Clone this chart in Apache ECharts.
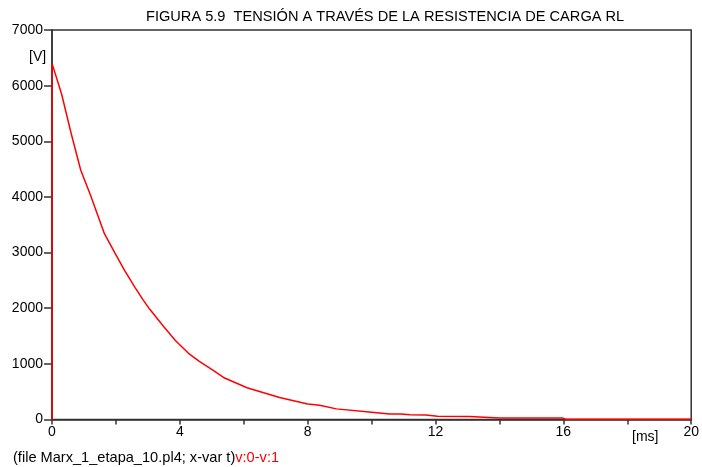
<!DOCTYPE html>
<html>
<head>
<meta charset="utf-8">
<script src="https://cdn.jsdelivr.net/npm/echarts@6/dist/echarts.min.js"></script>
<style>
html,body{margin:0;padding:0;background:#fff;}
#chart{width:702px;height:467px;}
</style>
</head>
<body>
<div id="chart"></div>
<script>
// time [ms]
var timeMs = [0, 0, 0.3, 0.6, 0.9, 1.2, 1.64, 1.97, 2.27, 2.6, 2.85, 3.06, 3.48, 3.86, 4.27, 4.61, 5.08, 5.4, 6.1, 7.12, 8.0, 8.37, 8.9, 10.0, 10.56, 10.92, 11.2, 11.7, 12.06, 13.06, 14.0, 15.97, 16.07, 20];
// voltage [V]
var voltage = [0, 6400, 5850, 5140, 4480, 4040, 3340, 2990, 2680, 2370, 2150, 1980, 1680, 1420, 1190, 1045, 870, 745, 570, 395, 280, 257, 191, 131, 101, 101, 85, 83, 59, 54, 29, 29, 5, 5];
var xTicks = [0, 4, 8, 12, 16, 20];
var yTicks = [0, 1000, 2000, 3000, 4000, 5000, 6000, 7000];
var titleText = 'FIGURA 5.9  TENSIÓN A TRAVÉS DE LA RESISTENCIA DE CARGA RL';

var data = timeMs.map(function (t, i) { return [t, voltage[i]]; });
var font = 'Liberation Sans, Arial, sans-serif';

var chart = echarts.init(document.getElementById('chart'), null, {renderer: 'canvas'});
chart.setOption({
  animation: false,
  backgroundColor: '#fff',
  title: {
    text: titleText,
    left: 141, top: 4,
    textStyle: {fontFamily: font, fontSize: 14.6, fontWeight: 'normal', color: '#000'}
  },
  grid: {
    left: 52, right: 10, top: 30, bottom: 47.5,
    show: true, borderColor: '#333', borderWidth: 1.5, backgroundColor: 'transparent'
  },
  xAxis: {
    type: 'value', min: 0, max: 20, interval: 2,
    axisLine: {show: true, onZero: false, lineStyle: {color: '#333', width: 1.5}},
    axisTick: {show: true, inside: false, length: 5, lineStyle: {color: '#333', width: 1.5}},
    splitLine: {show: false},
    axisLabel: {
      margin: 6, color: '#000', fontFamily: font, fontSize: 14,
      showMaxLabel: true,
      formatter: function (v) { return xTicks.indexOf(v) >= 0 ? String(v) : ''; }
    }
  },
  yAxis: {
    type: 'value', min: 0, max: 7000, interval: 1000,
    axisLine: {show: true, onZero: false, lineStyle: {color: '#333', width: 1.5}},
    axisTick: {show: true, inside: false, length: 8, lineStyle: {color: '#333', width: 1.5}},
    splitLine: {show: false},
    axisLabel: {
      margin: 9, color: '#000', fontFamily: font, fontSize: 14,
      formatter: function (v) { return yTicks.indexOf(v) >= 0 ? String(v) : ''; }
    }
  },
  graphic: [
    {type: 'text', left: 29, top: 50, style: {text: '[V]', fill: '#000', font: '14px ' + font}},
    {type: 'text', left: 632, top: 430, style: {text: '[ms]', fill: '#000', font: '14px ' + font}},
    {type: 'text', left: 13, top: 450, style: {
      text: '{a|(file Marx_1_etapa_10.pl4; x-var t)}{b|v:0-v:1}',
      rich: {
        a: {fill: '#000', fontFamily: font, fontSize: 14.6, color: '#000'},
        b: {fill: '#ff0000', fontFamily: font, fontSize: 14.6, color: '#ff0000'}
      }
    }}
  ],
  series: [{
    type: 'line',
    data: data,
    showSymbol: false,
    symbol: 'none',
    lineStyle: {color: '#ff0000', width: 1.5},
    z: 5
  }]
});
</script>
</body>
</html>
